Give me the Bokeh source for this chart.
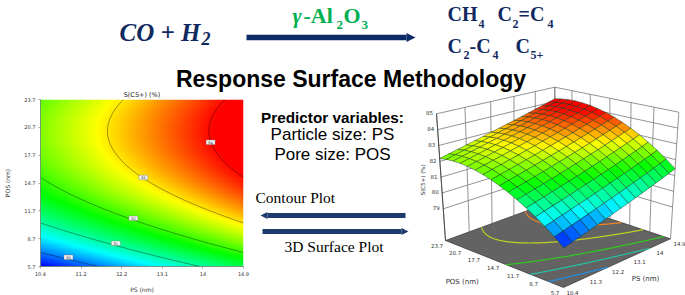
import numpy as np
from bokeh.core.properties import value
from bokeh.embed import file_html
from bokeh.layouts import column, row
from bokeh.models import Arrow, FixedTicker, NormalHead, Range1d
from bokeh.plotting import figure
from bokeh.plotting.contour import contour_data
from bokeh.resources import INLINE

# ---------- data ----------
PS_TICKS = [10.4, 11.3, 12.2, 13.1, 14.0, 14.9]
PS_LABELS_2D = ["10.4", "11.2", "12.2", "13.1", "14", "14.9"]
PS_LABELS_3D = ["10.4", "11.3", "12.2", "13.1", "14", "14.9"]
POS_TICKS = [5.7, 8.7, 11.7, 14.7, 17.7, 20.7, 23.7]
POS_LABELS = ["5.7", "8.7", "11.7", "14.7", "17.7", "20.7", "23.7"]
S_TICKS = [79, 80, 81, 82, 83, 84, 85]

S_57 = [79.43, 79.83, 80.23, 80.63, 81.03, 81.43]
S_87 = [80.50, 80.90, 81.30, 81.70, 82.10, 82.50]
S_117 = [81.33, 81.73, 82.13, 82.53, 82.93, 83.33]
S_147 = [81.91, 82.31, 82.71, 83.11, 83.51, 83.91]
S_177 = [82.25, 82.65, 83.05, 83.45, 83.85, 84.25]
S_207 = [82.34, 82.74, 83.14, 83.54, 83.94, 84.34]
S_237 = [82.18, 82.58, 82.98, 83.38, 83.78, 84.18]

CONTOUR_LEVELS = [80, 81, 82, 83, 84]
LABEL_PS = [11.02, 12.07, 12.46, 12.68, 14.17]
LABEL_POS = [6.7, 8.2, 10.9, 15.3, 19.1]
FLOOR_LEVELS = [80.2, 81.0, 81.8, 82.8, 83.6]
FLOOR_COLORS = ["#1e90e6", "#22c4a4", "#2ecb1e", "#c2d41e", "#ef8420"]
COLOR_MIN, COLOR_MAX = 79.43, 84.05

NAVY = "#10295f"
ARROW_NAVY = "#0b2a66"
ARROW_BLUE = "#1f3a6e"

# ---------- response surface fitted to the table ----------
table = np.array([S_57, S_87, S_117, S_147, S_177, S_207, S_237])


def terms(ps, pos):
    u = (ps - 12.65) / 2.25
    v = (pos - 14.7) / 9.0
    return np.stack([np.ones_like(u), u, v, u * v, u * u, v * v], axis=-1)


tp, tq = np.meshgrid(PS_TICKS, POS_TICKS)
coef = np.linalg.lstsq(terms(tp, tq).reshape(-1, 6), table.ravel(), rcond=None)[0]


def model(ps, pos):
    return terms(ps, pos) @ coef


def rainbow(z, lo=COLOR_MIN, hi=COLOR_MAX):
    t = np.clip((np.asarray(z) - lo) / (hi - lo), 0, 1)
    stops = [0, 0.25, 0.5, 0.75, 1]
    r = np.interp(t, stops, [0, 0, 0, 255, 255])
    g = np.interp(t, stops, [0, 255, 255, 255, 0])
    b = np.interp(t, stops, [255, 255, 0, 0, 0])
    return r, g, b


fine_ps = np.linspace(PS_TICKS[0], PS_TICKS[-1], 240)
fine_pos = np.linspace(POS_TICKS[0], POS_TICKS[-1], 200)
fp, fq = np.meshgrid(fine_ps, fine_pos)
fz = model(fp, fq)


def label(p, x, y, s, size, color="#000000", font="Liberation Sans", style="normal",
          align="left", baseline="alphabetic", angle=0.0):
    # y names the text's baseline; the glyph is anchored on its middle
    if baseline == "alphabetic":
        y = y - 0.35 * size
        baseline = "middle"
    p.text(x=[x], y=[y], text=[s], text_font=value(font), text_font_size=f"{size}px",
           text_font_style=style, text_color=color, text_align=align,
           text_baseline=baseline, angle=angle)


def bare(width, height, x0, x1, y0, y1):
    p = figure(width=width, height=height, x_range=Range1d(x0, x1), y_range=Range1d(y1, y0),
               output_backend="svg", toolbar_location=None, tools="",
               min_border=0, min_border_left=0, min_border_right=0,
               min_border_top=0, min_border_bottom=0)
    p.axis.visible = False
    p.grid.visible = False
    p.outline_line_color = None
    p.background_fill_color = None
    p.border_fill_color = None
    p.frame_align = False
    return p


# ---------- header ----------
head = bare(685, 93, 0, 685, 0, 93)
head.margin = (0, 0, -8, 0)
SERIF = "Liberation Serif"
label(head, 119, 41, "CO + H", 25, NAVY, SERIF, "bold italic")
label(head, 201, 44, "2", 18, NAVY, SERIF, "bold italic")
head.add_layout(Arrow(end=NormalHead(size=9, fill_color=ARROW_NAVY, line_color=ARROW_NAVY, line_width=0),
                      x_start=246, y_start=37, x_end=415, y_end=37,
                      line_color=ARROW_NAVY, line_width=5.5))
GREEN = "#00b050"
label(head, 292, 23, "γ", 22, GREEN, SERIF, "bold italic")
label(head, 303, 23, "-Al", 22, GREEN, SERIF, "bold")
label(head, 336, 29, "2", 13, GREEN, SERIF, "bold")
label(head, 343, 23, "O", 22, GREEN, SERIF, "bold")
label(head, 361, 29, "3", 13, GREEN, SERIF, "bold")
for x, y, s, sz in [(447, 20, "CH", 20), (478, 28, "4", 12), (497, 20, "C", 20), (512, 28, "2", 12),
                    (518, 20, "=C", 20), (547, 28, "4", 12), (447, 52, "C", 20), (463, 59, "2", 12),
                    (469, 52, "-C", 20), (492, 59, "4", 12), (515, 52, "C", 20), (530, 59, "5+", 12)]:
    label(head, x, y, s, sz, NAVY, SERIF, "bold")
label(head, 350.5, 87, "Response Surface Methodology", 23, "#000000", "Liberation Sans", "bold", "center")

# ---------- contour plot ----------
left = figure(width=250, height=210, x_range=Range1d(PS_TICKS[0], PS_TICKS[-1]),
              y_range=Range1d(POS_TICKS[0], POS_TICKS[-1]), output_backend="svg",
              toolbar_location=None, tools="", min_border_left=40, min_border_right=7,
              min_border_top=14, min_border_bottom=28, title="S(C5+) (%)")
left.frame_align = False
left.border_fill_color = None
left.background_fill_color = None
left.outline_line_color = None
left.grid.visible = False
left.title.align = "center"
left.title.text_font = "DejaVu Sans"
left.title.text_font_size = "6.5px"
left.title.text_font_style = "normal"
left.title.text_color = "#222222"
left.title.standoff = 1
r, g, b = rainbow(fz)
rgba = np.dstack([r, g, b, np.full_like(r, 255)]).astype(np.uint8)
rgba32 = rgba.view(dtype=np.uint32).reshape(fz.shape)
left.image_rgba(image=[rgba32], x=PS_TICKS[0], y=POS_TICKS[0],
                dw=PS_TICKS[-1] - PS_TICKS[0], dh=POS_TICKS[-1] - POS_TICKS[0])
left.contour(fine_ps, fine_pos, fz, CONTOUR_LEVELS, line_color="#000000", line_alpha=0.65, line_width=0.6)
left.rect(LABEL_PS, LABEL_POS, width=9, height=4.5, width_units="screen", height_units="screen",
          fill_color="#f4f4f4", line_color="#777777", line_width=0.4)
left.text(LABEL_PS, LABEL_POS, text=[str(v) for v in CONTOUR_LEVELS], text_font=value("DejaVu Sans"),
          text_font_size="3.5px", text_align="center", text_baseline="middle", text_color="#333333")
for ax, ticks, labels, name in [(left.xaxis[0], PS_TICKS, PS_LABELS_2D, "PS (nm)"),
                                (left.yaxis[0], POS_TICKS, POS_LABELS, "POS (nm)")]:
    ax.ticker = FixedTicker(ticks=ticks)
    ax.major_label_overrides = {t: s for t, s in zip(ticks, labels)}
    ax.axis_label = name
    ax.axis_label_text_font = "DejaVu Sans"
    ax.axis_label_text_font_size = "6px"
    ax.axis_label_text_font_style = "normal"
    ax.axis_label_text_color = "#333333"
    ax.major_label_text_font = "DejaVu Sans"
    ax.major_label_text_font_size = "5px"
    ax.major_label_text_color = "#333333"
    ax.major_label_standoff = 3
    ax.major_tick_in = 0
    ax.major_tick_out = 2
    ax.minor_tick_line_color = None
    ax.major_tick_line_color = "#555555"
    ax.major_tick_line_width = 0.5
    ax.axis_line_color = "#335533"
    ax.axis_line_width = 0.6
left.xaxis[0].axis_label_standoff = 7
left.yaxis[0].axis_label_standoff = 10

# ---------- middle text ----------
mid = bare(165, 210, 250, 415, 85, 295)
label(mid, 332, 122, "Predictor variables:", 15.3, "#000000", "Liberation Sans", "bold", "center")
label(mid, 332, 140, "Particle size: PS", 17, "#000000", "Liberation Sans", "normal", "center")
label(mid, 332, 160, "Pore size: POS", 17, "#000000", "Liberation Sans", "normal", "center")
label(mid, 255, 202, "Contour Plot", 15.5, "#000000", SERIF)
label(mid, 284, 251, "3D Surface Plot", 15.5, "#000000", SERIF)
mid.add_layout(Arrow(end=NormalHead(size=7, fill_color=ARROW_BLUE, line_color=ARROW_BLUE, line_width=0),
                     x_start=405, y_start=215, x_end=260, y_end=215, line_color=ARROW_BLUE, line_width=5))
mid.add_layout(Arrow(end=NormalHead(size=7, fill_color=ARROW_BLUE, line_color=ARROW_BLUE, line_width=0),
                     x_start=262, y_start=231, x_end=408, y_end=231, line_color=ARROW_BLUE, line_width=5))

# ---------- 3D surface: perspective box set by its corners on screen ----------
right = bare(270, 210, 415, 685, 85, 295)
FLOOR_BOX = [(563, 287), (670, 238.3), (554.5, 200), (445, 240)]
TOP_BOX = [(564, 156.4), (678.3, 111.7), (554.3, 86.7), (436, 113.3)]
Z_FLOOR, Z_TOP = 77.0, 85.0


def homography(pts):
    src = [(0, 0), (1, 0), (1, 1), (0, 1)]
    A, B = [], []
    for (a, c), (x, y) in zip(src, pts):
        A.append([a, c, 1, 0, 0, 0, -a * x, -c * x]); B.append(x)
        A.append([0, 0, 0, a, c, 1, -a * y, -c * y]); B.append(y)
    return np.append(np.linalg.solve(np.array(A, float), np.array(B, float)), 1).reshape(3, 3)


HF, HT = homography(FLOOR_BOX), homography(TOP_BOX)


def apply(H, a, c):
    w = H[2, 0] * a + H[2, 1] * c + H[2, 2]
    return (H[0, 0] * a + H[0, 1] * c + H[0, 2]) / w, (H[1, 0] * a + H[1, 1] * c + H[1, 2]) / w


def project(ps, pos, z):
    a = (np.asarray(ps, float) - PS_TICKS[0]) / (PS_TICKS[-1] - PS_TICKS[0])
    c = (np.asarray(pos, float) - POS_TICKS[0]) / (POS_TICKS[-1] - POS_TICKS[0])
    t = (np.asarray(z, float) - Z_FLOOR) / (Z_TOP - Z_FLOOR)
    fx, fy = apply(HF, a, c)
    tx, ty = apply(HT, a, c)
    return fx + (tx - fx) * t, fy + (ty - fy) * t


PS0, PS1, POS0, POS1 = PS_TICKS[0], PS_TICKS[-1], POS_TICKS[0], POS_TICKS[-1]
WALL = "#777777"


def seg(p0, p1, color=WALL, w=0.8):
    x0, y0 = project(*p0)
    x1, y1 = project(*p1)
    right.line([float(x0), float(x1)], [float(y0), float(y1)], line_color=color, line_width=w)


# walls
for ps in PS_TICKS:
    seg((ps, POS1, Z_FLOOR), (ps, POS1, Z_TOP))
for pos in POS_TICKS:
    seg((PS1, pos, Z_FLOOR), (PS1, pos, Z_TOP))
for z in S_TICKS:
    seg((PS0, POS1, z), (PS1, POS1, z))
    seg((PS1, POS1, z), (PS1, POS0, z))
seg((PS0, POS1, Z_FLOOR), (PS0, POS1, Z_TOP), "#333333", 0.8)

# floor
fx, fy = project([PS0, PS1, PS1, PS0], [POS0, POS0, POS1, POS1], [Z_FLOOR] * 4)
right.patch(fx, fy, fill_color="#636363", line_color="#333333", line_width=0.7)
cd = contour_data(fine_ps, fine_pos, fz, FLOOR_LEVELS, want_fill=False, want_line=True)
lx, ly = [], []
for xs, ys in zip(cd.line_data.xs, cd.line_data.ys):
    px, py = project(np.asarray(xs), np.asarray(ys), np.full(len(xs), Z_FLOOR))
    lx.append(px)
    ly.append(py)
right.multi_line(lx, ly, line_color=FLOOR_COLORS, line_width=1.2)

# surface, painted back to front
N = 15
mesh_ps = np.linspace(PS0, PS1, N + 1)
mesh_pos = np.linspace(POS0, POS1, N + 1)
mp, mq = np.meshgrid(mesh_ps, mesh_pos)
mz = model(mp, mq)
sx, sy = project(mp, mq, mz)
cells = sorted(((i, j) for i in range(N) for j in range(N)), key=lambda c: -(c[0] + c[1]))
qx, qy, qc = [], [], []
for i, j in cells:
    qx.append([sx[i, j], sx[i, j + 1], sx[i + 1, j + 1], sx[i + 1, j]])
    qy.append([sy[i, j], sy[i, j + 1], sy[i + 1, j + 1], sy[i + 1, j]])
    cr, cg, cb = rainbow(mz[i:i + 2, j:j + 2].mean())
    qc.append("#%02x%02x%02x" % (int(cr), int(cg), int(cb)))
right.patches(qx, qy, fill_color=qc, line_color="#12331a", line_width=0.6, line_alpha=0.75)

# tick labels
TICK = "#333333"
for ps, s in zip(PS_TICKS, PS_LABELS_3D):
    x, y = project(ps, POS0, Z_FLOOR)
    label(right, float(x) + 9, float(y) + 4.5, s, 5.5, TICK, "DejaVu Sans", "normal", "center", "middle")
for pos, s in zip(POS_TICKS, POS_LABELS):
    x, y = project(PS0, pos, Z_FLOOR)
    label(right, float(x) - 8.5, float(y) + 4.8, s, 5.5, TICK, "DejaVu Sans", "normal", "center", "middle")
for z in S_TICKS:
    x, y = project(PS0, POS1, z)
    label(right, float(x) - 7, float(y) - 1, str(z), 5.5, TICK, "DejaVu Sans", "normal", "center", "middle")
label(right, 461.7, 281.7, "POS (nm)", 7, TICK, "DejaVu Sans", "normal", "center", "middle")
label(right, 645, 278.3, "PS (nm)", 7, TICK, "DejaVu Sans", "normal", "center", "middle")
label(right, 422.7, 179.3, "S(C5+) (%)", 5.5, TICK, "DejaVu Sans", "normal", "center", "middle", float(np.pi / 2))

page = column(head, row(left, mid, right, spacing=0), spacing=0)
open("out.html", "w").write(file_html(page, INLINE))
